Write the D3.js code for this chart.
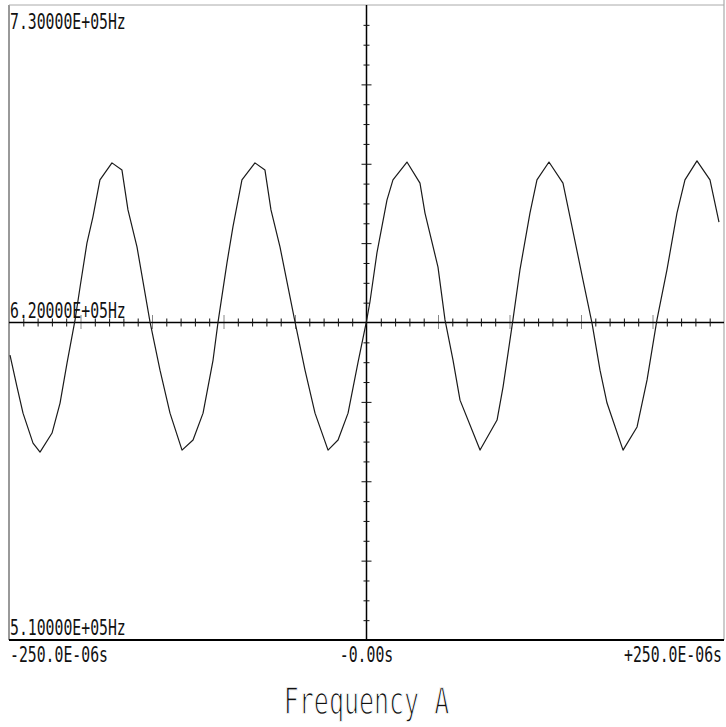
<!DOCTYPE html>
<html>
<head>
<meta charset="utf-8">
<script src="https://cdn.jsdelivr.net/npm/d3@7"></script>
<style>
	body { margin: 0; background: #fff; }
	svg { display: block; }
	.lbl { font-family: "DejaVu Sans Mono", monospace; fill: #111; }
	.title { stroke: #fff; stroke-width: 0.9; }
	.axis line { stroke: #111; }
	.axis .domain { display: none; }
</style>
</head>
<body>
<div id="chart"></div>
<script>
// Trace: time (microseconds) and frequency (kHz)
const timeUs = [
	-249.3, -244.4, -240.2, -233.2, -228.3, -219.9, -214.3, -209.4, -203.8, -200.3,
	-195.5, -191.3, -186.4, -178.0, -171.0, -166.8, -160.5, -151.4, -144.4, -137.4,
	-129.0, -121.3, -114.3, -107.3, -103.8, -97.6, -93.4, -87.1, -78.0, -71.0,
	-66.8, -60.5, -50.0, -43.0, -36.0, -26.9, -19.9, -12.9, -5.9, 0.0,
	2.4, 7.3, 14.3, 18.5, 28.3, 37.4, 40.9, 50.0, 54.9, 60.5,
	65.4, 79.4, 91.3, 95.5, 102.4, 107.3, 114.3, 119.2, 127.6, 137.4,
	142.3, 151.4, 157.7, 163.3, 168.2, 179.4, 189.2, 196.2, 203.1, 210.1,
	217.1, 222.7, 231.1, 240.2, 246.5
];
const freqKHz = [
	608.7, 597.7, 588.6, 578.2, 575.1, 581.7, 592.1, 606.0, 620.9, 632.3,
	647.5, 656.6, 669.4, 675.3, 672.8, 659.0, 646.2, 620.2, 603.5, 588.6,
	575.8, 579.3, 588.6, 607.0, 620.2, 640.6, 653.1, 669.4, 675.3, 672.8,
	659.0, 646.2, 620.2, 603.5, 588.6, 575.8, 579.3, 588.6, 606.3, 620.5,
	627.1, 644.1, 662.4, 669.4, 675.6, 668.3, 657.9, 639.2, 620.9, 607.0,
	593.1, 575.8, 586.2, 597.7, 620.9, 638.2, 657.9, 669.4, 675.6, 668.3,
	656.6, 634.7, 619.8, 603.5, 592.1, 575.8, 583.8, 600.1, 620.9, 638.2,
	657.9, 669.4, 676.0, 669.4, 654.8
];

// Scale labels as printed
const yLabelValues = [730, 620, 510];
const yLabels = ["7.30000E+05Hz", "6.20000E+05Hz", "5.10000E+05Hz"];
const xLabelValues = [-250, 0, 250];
const xLabels = ["-250.0E-06s", "-0.00s", "+250.0E-06s"];
const title = "Frequency A";

const width = 726, height = 727;
// frame edges [top, bottom, left, right]
const frame = [5, 640, 9, 724];

const svg = d3.select("#chart").append("svg")
	.attr("width", width).attr("height", height);

const x = d3.scaleLinear([-250, 250], [frame[2], frame[3]]);
const y = d3.scaleLinear([510, 730], [frame[1], frame[0]]);
const x0 = x(0), y0 = y(620);

// Frame
svg.append("line").attr("x1", frame[2]).attr("x2", frame[2])
	.attr("y1", frame[0]).attr("y2", frame[1])
	.attr("stroke", "#555").attr("stroke-width", 1.2);
svg.append("line").attr("x1", frame[3]).attr("x2", frame[3])
	.attr("y1", 0).attr("y2", frame[1])
	.attr("stroke", "#999").attr("stroke-width", 1);
svg.append("line").attr("x1", frame[2]).attr("x2", frame[3])
	.attr("y1", frame[0]).attr("y2", frame[0])
	.attr("stroke", "#aaa").attr("stroke-width", 1);
svg.append("line").attr("x1", frame[2]).attr("x2", frame[3])
	.attr("y1", frame[1]).attr("y2", frame[1])
	.attr("stroke", "#000").attr("stroke-width", 2);

// Centre cross
svg.append("line").attr("x1", frame[2]).attr("x2", frame[3])
	.attr("y1", y0).attr("y2", y0)
	.attr("stroke", "#000").attr("stroke-width", 1.5);
svg.append("line").attr("x1", x0).attr("x2", x0)
	.attr("y1", frame[0]).attr("y2", frame[1])
	.attr("stroke", "#000").attr("stroke-width", 1.5);

// Ticks on the horizontal centre line: 10 us minor, 50 us major
const tMinor = d3.range(-240, 250, 10).filter((t) => t % 50 !== 0);
const tMajor = [-200, -150, -100, -50, 50, 100, 150, 200];
svg.append("g").attr("class", "axis")
	.attr("transform", `translate(0, ${y0 - 4})`)
	.call(d3.axisBottom(x).tickValues(tMinor).tickSize(8).tickFormat(""));
svg.append("g").attr("class", "axis major")
	.attr("transform", `translate(0, ${y0 - 7})`)
	.call(d3.axisBottom(x).tickValues(tMajor).tickSize(14).tickFormat(""))
	.selectAll("line").attr("stroke", "#666").attr("stroke-dasharray", "1,1");

// Ticks on the vertical centre line: 16 per half, every 4th longer
const fStep = 110 / 16;
const fTicks = d3.range(1, 16).flatMap((k) => [620 + k * fStep, 620 - k * fStep]);
const fMinor = fTicks.filter((d, i) => (Math.floor(i / 2) + 1) % 4 !== 0);
const fMajor = fTicks.filter((d, i) => (Math.floor(i / 2) + 1) % 4 === 0);
svg.append("g").attr("class", "axis")
	.attr("transform", `translate(${x0 + 3}, 0)`)
	.call(d3.axisLeft(y).tickValues(fMinor).tickSize(6).tickFormat(""));
svg.append("g").attr("class", "axis")
	.attr("transform", `translate(${x0 + 5}, 0)`)
	.call(d3.axisLeft(y).tickValues(fMajor).tickSize(10).tickFormat(""));

// Trace
const pts = timeUs.map((t, i) => [t, freqKHz[i]]);
svg.append("path")
	.datum(pts)
	.attr("fill", "none")
	.attr("stroke", "#1a1a1a")
	.attr("stroke-width", 1.2)
	.attr("stroke-linejoin", "round")
	.attr("d", d3.line().x((d) => x(d[0])).y((d) => y(d[1])));

// Plotter style text: narrow, tall glyphs
function plotText(txt, px, py, size, anchor, sy) {
	return svg.append("text").attr("class", "lbl")
		.attr("transform", `translate(${px}, ${py}) scale(1, ${sy})`)
		.attr("font-size", size)
		.attr("text-anchor", anchor)
		.text(txt);
}

yLabelValues.forEach((v, i) => {
	let py = v === 730 ? y(v) + 24 : y(v) - 5;
	plotText(yLabels[i], frame[2] + 1, py, 14.8, "start", 1.45);
});

xLabelValues.forEach((v, i) => {
	let anchor = i === 0 ? "start" : (i === 2 ? "end" : "middle");
	let px = i === 0 ? x(v) + 1 : (i === 2 ? x(v) - 2 : x(v));
	plotText(xLabels[i], px, frame[1] + 22, 14.8, anchor, 1.45);
});

// thin the big title strokes a little with a white outline
plotText(title, x0, 714, 25, "middle", 1.47).classed("title", true);
</script>
</body>
</html>
